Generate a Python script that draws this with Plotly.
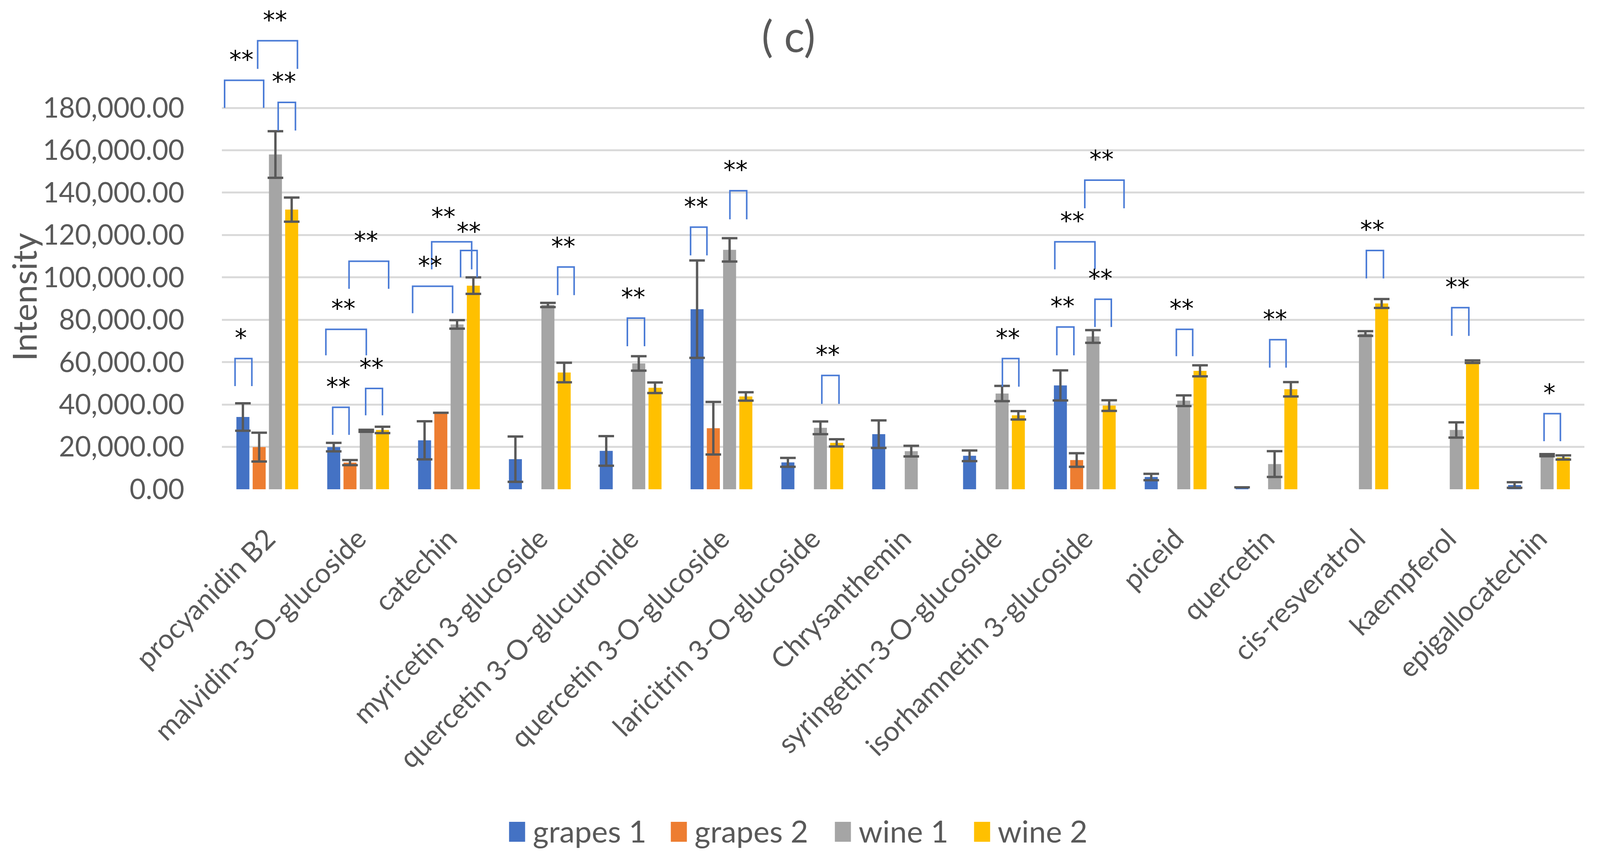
import plotly.graph_objects as go

categories = ["procyanidin B2", "malvidin-3-O-glucoside", "catechin", "myricetin 3-glucoside",
              "quercetin 3-O-glucuronide", "quercetin 3-O-glucoside", "laricitrin 3-O-glucoside",
              "Chrysanthemin", "syringetin-3-O-glucoside", "isorhamnetin 3-glucoside", "piceid",
              "quercetin", "cis-resveratrol", "kaempferol", "epigallocatechin"]

series_names = ["grapes 1", "grapes 2", "wine 1", "wine 2"]

grapes1 = [34100, 19900, 23100, 14200, 18100, 85000, 12700, 26000, 15800, 49000, 5800, 900, None, None, 2000]
grapes2 = [19900, 12600, 36100, None, None, 28800, None, None, None, 13800, None, None, None, None, None]
wine1 = [158000, 27600, 77800, 87000, 59400, 113000, 29000, 18000, 45200, 72100, 41800, 11900, 73500, 28000, 16100]
wine2 = [132000, 28000, 96100, 55100, 47900, 43800, 21900, None, 34900, 39500, 55900, 47200, 87700, 60200, 15000]

grapes1_err = [6500, 2000, 9000, 10700, 7000, 23000, 2100, 6500, 2500, 7100, 1500, None, None, None, 1300]
grapes2_err = [6800, 1200, None, None, None, 12400, None, None, None, 3200, None, None, None, None, None]
wine1_err = [11000, 500, 2000, 1000, 3400, 5500, 3000, 2500, 3600, 3000, 2500, 6100, 1100, 3600, 500]
wine2_err = [5700, 1500, 3900, 4600, 2500, 2000, 1700, None, 2000, 2500, 2600, 3400, 2100, 600, 1000]

y_tick_values = [0, 20000, 40000, 60000, 80000, 100000, 120000, 140000, 160000, 180000]

# significance brackets: category, left offset, right offset (category units), top value, leg bottom value, label
brackets = [
    ("procyanidin B2", -0.355, -0.17, 61700, 48700, "*"),
    ("procyanidin B2", -0.47, -0.04, 193000, 180000, "**"),
    ("procyanidin B2", -0.106, 0.332, 211700, 198400, "**"),
    ("procyanidin B2", 0.12, 0.31, 182600, 169300, "**"),
    ("malvidin-3-O-glucoside", -0.28, -0.10, 38700, 25700, "**"),
    ("malvidin-3-O-glucoside", -0.355, 0.09, 75500, 63200, "**"),
    ("malvidin-3-O-glucoside", -0.10, 0.336, 107600, 94600, "**"),
    ("malvidin-3-O-glucoside", 0.083, 0.268, 47600, 34900, "**"),
    ("catechin", -0.40, 0.04, 95800, 83100, "**"),
    ("catechin", -0.19, 0.25, 116800, 103800, "**"),
    ("catechin", 0.128, 0.31, 112700, 100000, "**"),
    ("myricetin 3-glucoside", 0.197, 0.378, 104900, 91600, "**"),
    ("quercetin 3-O-glucuronide", -0.036, 0.153, 80800, 67500, "**"),
    ("quercetin 3-O-glucoside", -0.34, -0.16, 123700, 110400, "**"),
    ("quercetin 3-O-glucoside", 0.093, 0.278, 140900, 127400, "**"),
    ("laricitrin 3-O-glucoside", 0.105, 0.294, 53700, 40300, "**"),
    ("syringetin-3-O-glucoside", 0.093, 0.274, 61700, 48400, "**"),
    ("isorhamnetin 3-glucoside", -0.308, -0.12, 76600, 63200, "**"),
    ("isorhamnetin 3-glucoside", -0.33, 0.112, 116800, 103800, "**"),
    ("isorhamnetin 3-glucoside", 0.0, 0.432, 145900, 132600, "**"),
    ("isorhamnetin 3-glucoside", 0.112, 0.292, 89700, 76600, "**"),
    ("piceid", 0.008, 0.188, 75500, 62800, "**"),
    ("quercetin", 0.036, 0.216, 70600, 57400, "**"),
    ("cis-resveratrol", 0.10, 0.288, 112700, 99500, "**"),
    ("kaempferol", 0.04, 0.228, 85700, 72400, "**"),
    ("epigallocatechin", 0.056, 0.236, 35700, 22700, "*"),
]
# small label nudges (category units, value units) to keep crowded labels apart
label_nudge = {("catechin", 116800): (-0.06, 2000), ("catechin", 112700): (0.03, -800)}

colors = ["#4472C4", "#ED7D31", "#A5A5A5", "#FFC000"]
values = [grapes1, grapes2, wine1, wine2]
errors = [grapes1_err, grapes2_err, wine1_err, wine2_err]

FONT = "Lato"
TXT = "#595959"
W, H = 4184, 2193
ML, MR, MT, MB = 580, 41, 5, 941
PW, PH = W - ML - MR, H - MT - MB
idx = list(range(len(categories)))


def px_to_paper_x(px):
    return (px - ML) / PW


def px_to_paper_y(py):
    return (H - MB - py) / PH


fig = go.Figure()
for name, vals, errs, col in zip(series_names, values, errors, colors):
    fig.add_trace(go.Bar(
        x=idx, y=vals, name=name, marker=dict(color=col, line=dict(width=0)),
        error_y=dict(type="data", array=errs, visible=True, color="#595959", thickness=6, width=20),
        showlegend=False,
    ))

annotations = []
for cat, x0, x1, top, bot, lab in brackets:
    c = categories.index(cat)
    dx, dy = label_nudge.get((cat, top), (0, 0))
    fig.add_trace(go.Scatter(
        x=[c + x0, c + x0, c + x1, c + x1], y=[bot, top, top, bot], mode="lines",
        line=dict(color="#4A7BD6", width=4), showlegend=False, hoverinfo="skip"))
    annotations.append(dict(x=c + (x0 + x1) / 2 - 0.03 + dx, y=top + 9800 + dy, xref="x", yref="y",
                            text=lab, showarrow=False, yanchor="middle",
                            font=dict(family="DejaVu Sans", size=62, color="black")))

# y axis title
annotations.append(dict(x=px_to_paper_x(62), y=px_to_paper_y(760), xref="paper", yref="paper",
                        text="Intensity", textangle=-90, showarrow=False,
                        xanchor="center", yanchor="middle",
                        font=dict(family=FONT, size=86, color=TXT)))

# legend (drawn manually so the colour swatches match the reference size)
legend_left_px = [1331, 1754, 2183, 2547]
shapes = []
for name, col, lx in zip(series_names, colors, legend_left_px):
    shapes.append(dict(type="rect", xref="paper", yref="paper",
                       x0=px_to_paper_x(lx), x1=px_to_paper_x(lx + 42),
                       y0=px_to_paper_y(2154), y1=px_to_paper_y(2103),
                       fillcolor=col, line=dict(width=0)))
    annotations.append(dict(x=px_to_paper_x(lx + 60), y=px_to_paper_y(2126), xref="paper", yref="paper",
                            text=name, showarrow=False, xanchor="left", yanchor="middle",
                            font=dict(family=FONT, size=78, color=TXT)))

fig.update_layout(
    width=W, height=H,
    margin=dict(l=ML, r=MR, t=MT, b=MB),
    paper_bgcolor="white", plot_bgcolor="white",
    barmode="group", bargap=0.284, bargroupgap=0.2,
    title=dict(text="( c)", x=2062 / W, xref="container", xanchor="center",
               y=1 - 94 / H, yref="container", yanchor="middle",
               font=dict(family=FONT, size=110, color=TXT)),
    xaxis=dict(range=[-0.5, len(categories) - 0.5], tickmode="array", tickvals=idx,
               ticktext=categories, tickangle=-45, showgrid=False, zeroline=False,
               showline=False, ticks="", tickfont=dict(family=FONT, size=71, color=TXT),
               ticklabelstandoff=70),
    yaxis=dict(range=[0, 230000], tickmode="array", tickvals=y_tick_values,
               tickformat=",.2f", showgrid=True, gridcolor="#DADADA", gridwidth=5,
               zeroline=False, showline=False, ticks="",
               tickfont=dict(family=FONT, size=71, color=TXT), ticklabelstandoff=95),
    annotations=annotations,
    shapes=shapes,
    showlegend=False,
)

# fit the fixed-size figure to the actual viewport width if the window is narrower
fit_script = """
document.body.style.margin = '0px';
document.body.style.overflow = 'hidden';
var gd = document.getElementById('{plot_id}');
var vw = Math.min(window.innerWidth || 4184, document.documentElement.clientWidth || 4184);
if (vw < 4184) {
  var s = vw / 4184;
  Plotly.relayout(gd, {width: vw, 'margin.l': 580 * s, 'margin.r': 41 * s});
}
"""

fig.write_html("out.html", config={"displayModeBar": False}, post_script=fit_script)
